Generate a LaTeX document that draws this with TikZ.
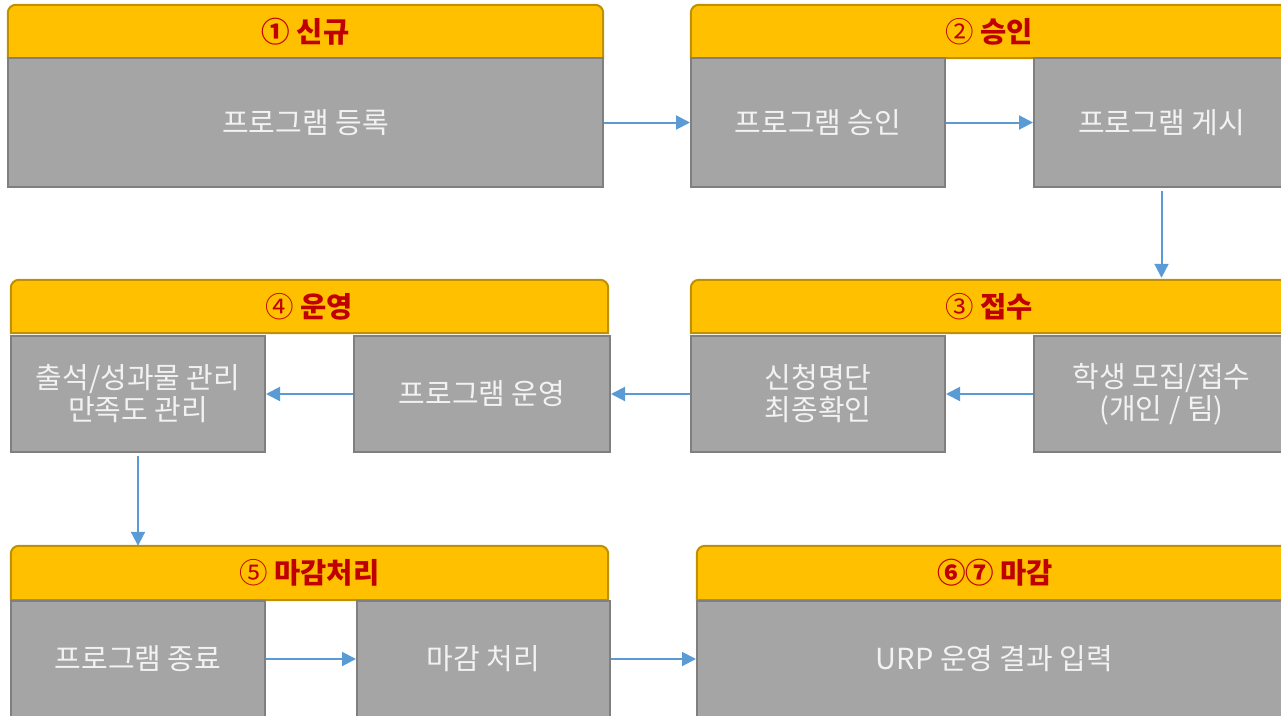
\documentclass[tikz,border=0pt]{standalone}
\usepackage{fontspec}
\setmainfont{Noto Sans CJK KR}
\usetikzlibrary{arrows.meta,backgrounds}
\definecolor{hdrfill}{HTML}{FFC000}
\definecolor{hdrline}{HTML}{BF9000}
\definecolor{hdrtext}{HTML}{C00000}
\definecolor{boxfill}{HTML}{A5A5A5}
\definecolor{boxline}{HTML}{7F7F7F}
\definecolor{boxtext}{HTML}{F2F2F2}
\definecolor{arrowcol}{HTML}{5B9BD5}
\tikzset{
  hdrlabel/.style={inner sep=0pt, text=hdrtext, font=\fontsize{28.5}{32}\selectfont},
  hdrshape/.style={fill=hdrfill, draw=hdrline, line width=2pt},
  bodybox/.style={rectangle, fill=boxfill, draw=boxline, line width=2pt, text=boxtext,
    align=center, inner sep=0pt, font=\fontsize{29}{32}\selectfont},
  flow/.style={draw=arrowcol, line width=2pt, -{Triangle[length=14pt,width=14pt]}},
}
% header: name, x1, y1, x2, y2, text
\newcommand{\hdrbar}[6]{%
  \node[hdrlabel, minimum width={#4-#2}, minimum height={#5-#3}] (#1) at ({(#2+#4)/2},{(#3+#5)/2}) {#6};
  \begin{scope}[on background layer]
    \draw[hdrshape] (#1.south west) [rounded corners=8pt] -- (#1.north west) -- (#1.north east) [sharp corners] -- (#1.south east) -- cycle;
  \end{scope}}
\begin{document}
\begin{tikzpicture}[x={(1pt,0)}, y={(0,-1pt)}]
\useasboundingbox (0,0) rectangle (1281,715);
\clip (0,0) rectangle (1281,715);

% headers
\hdrbar{h1}{8}{5}{603}{58}{\textbf{① 신규}}
\hdrbar{h2}{691}{5}{1287}{58}{② \textbf{승인}}
\hdrbar{h4}{11}{280}{608}{333}{④ \textbf{운영}}
\hdrbar{h3}{691}{280}{1287}{333}{③ \textbf{접수}}
\hdrbar{h5}{11}{546}{608}{600}{⑤ \textbf{마감처리}}
\hdrbar{h6}{697}{546}{1293}{600}{\textbf{⑥⑦ 마감}}

% row 1
\node[bodybox, minimum width=595, minimum height=129] (r1a) at (305.5,122.5) {프로그램 등록};
\node[bodybox, minimum width=254, minimum height=129] (r1b) at (818,122.5) {프로그램 승인};
\node[bodybox, minimum width=255, minimum height=129] (r1c) at (1161.5,122.5) {프로그램 게시};

% row 2
\node[bodybox, minimum width=254, minimum height=116] (r2a) at (138,394) {출석/성과물 관리\\만족도 관리};
\node[bodybox, minimum width=256, minimum height=116] (r2b) at (482,394) {프로그램 운영};
\node[bodybox, minimum width=254, minimum height=116] (r2c) at (818,394) {신청명단\\최종확인};
\node[bodybox, minimum width=255, minimum height=116] (r2d) at (1161.5,394) {학생 모집/접수\\(개인 / 팀)};

% row 3
\node[bodybox, minimum width=254, minimum height=116] (r3a) at (138,659) {프로그램 종료};
\node[bodybox, minimum width=253, minimum height=116] (r3b) at (483.5,659) {마감 처리};
\node[bodybox, minimum width=595, minimum height=116] (r3c) at (994.5,659) {URP 운영 결과 입력};

% connectors
\draw[flow] (r1a.east) -- (r1b.west);
\draw[flow] (r1b.east) -- (r1c.west);
\draw[flow, shorten <=3pt, shorten >=2pt] (r1c.south) -- (r1c.south |- h3.north);
\draw[flow] (r2d.west) -- (r2c.east);
\draw[flow] (r2c.west) -- (r2b.east);
\draw[flow] (r2b.west) -- (r2a.east);
\draw[flow, shorten <=3pt] (r2a.south) -- (r2a.south |- h5.north);
\draw[flow] (r3a.east) -- (r3b.west);
\draw[flow] (r3b.east) -- (r3c.west);
\end{tikzpicture}
\end{document}
